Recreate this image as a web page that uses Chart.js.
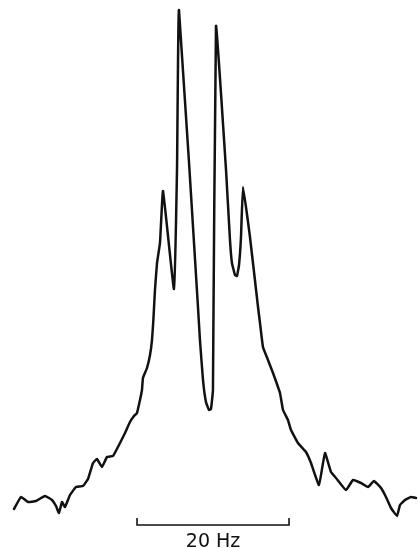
<!DOCTYPE html>
<html>
<head>
<meta charset="utf-8">
<script src="https://cdn.jsdelivr.net/npm/chart.js@4/dist/chart.umd.min.js"></script>
<style>
  html, body { margin: 0; padding: 0; background: #fff; }
  #wrap { width: 418px; height: 548px; }
</style>
</head>
<body>
<div id="wrap"><canvas id="spectrum" width="418" height="548"></canvas></div>
<script>
// frequency offset (Hz)
const freqHz = [
  -25.79, -24.87, -23.95, -22.89, -21.71, -20.79, -20.26, -19.87, -19.47, -19.08,
  -18.42, -17.63, -16.71, -16.05, -15.39, -14.87, -14.21, -13.55, -12.76, -11.84,
  -11.18, -10.53, -10.0, -9.61, -9.21, -8.95, -8.82, -8.29, -7.89, -7.63,
  -7.45, -7.24, -6.97, -6.58, -6.18, -4.74, -4.34, -4.08, -1.58, -1.32,
  -0.92, -0.53, -0.13, 0.13, 0.39, 0.79, 2.11, 2.63,
  2.89, 3.29, 3.55, 3.82, 4.08, 4.34, 5.26, 6.32, 6.58, 6.97,
  7.63, 8.29, 9.21, 9.61, 10.26, 10.66, 11.58, 12.63, 13.29, 14.34,
  15.13, 15.92, 16.58, 17.89, 18.82, 19.87, 20.79, 21.58, 22.50, 23.16,
  23.82, 24.61, 25.0, 25.66, 26.45, 27.11
];
// intensity (arbitrary units)
const intensity = [
  2.2, 4.6, 3.6, 3.8, 4.8, 4.0, 2.8, 1.4, 3.6, 2.6,
  5.0, 6.6, 6.8, 8.2, 11.4, 12.2, 10.6, 12.6, 12.8, 15.4,
  17.4, 19.6, 20.8, 21.4, 24.0, 26.0, 28.4, 30.4, 33.0, 36.0,
  40.0, 46.0, 51.4, 55.4, 65.8, 46.2, 70.0, 102.0, 42.6, 36.0,
  28.0, 23.6, 22.0, 22.2, 26.0, 98.8, 70.0, 56.0,
  51.4, 49.0, 48.8, 51.0, 56.6, 66.6, 56.6, 42.6, 39.4, 34.6,
  32.0, 29.4, 25.4, 22.0, 20.0, 18.0, 15.4, 13.6, 11.4, 7.0,
  13.4, 9.6, 8.4, 6.0, 8.0, 7.4, 6.6, 7.8, 6.4, 4.6,
  2.4, 0.8, 3.0, 4.0, 4.6, 4.4
];

// scale bar
const barStartHz = -9.6;
const barLengthHz = 20;
const barLabel = "20 Hz";

const xRange = [-27.63, 27.37];
const yRange = [-5.6, 104];

const points = freqHz.map((f, i) => ({ x: f, y: intensity[i] }));

const scaleBar = {
  id: "scaleBar",
  afterDatasetsDraw(chart) {
    const { ctx, scales: { x, y } } = chart;
    const x0 = x.getPixelForValue(barStartHz);
    const x1 = x.getPixelForValue(barStartHz + barLengthHz);
    const yLine = y.getPixelForValue(-1.0);
    const yTick = y.getPixelForValue(0.4);
    ctx.save();
    ctx.strokeStyle = "#111";
    ctx.lineWidth = 1.6;
    ctx.beginPath();
    ctx.moveTo(x0, yTick);
    ctx.lineTo(x0, yLine);
    ctx.lineTo(x1, yLine);
    ctx.lineTo(x1, yTick);
    ctx.stroke();
    ctx.fillStyle = "#111";
    ctx.font = "19px 'DejaVu Sans'";
    ctx.textAlign = "center";
    ctx.textBaseline = "alphabetic";
    ctx.fillText(barLabel, (x0 + x1) / 2, y.getPixelForValue(-5.4));
    ctx.restore();
  }
};

new Chart(document.getElementById("spectrum"), {
  type: "scatter",
  data: {
    datasets: [{
      data: points,
      showLine: true,
      borderColor: "#111",
      borderWidth: 2.5,
      borderJoinStyle: "round",
      borderCapStyle: "round",
      pointRadius: 0,
      tension: 0.1,
      clip: false
    }]
  },
  options: {
    responsive: false,
    animation: false,
    layout: { padding: 0 },
    plugins: { legend: { display: false }, tooltip: { enabled: false } },
    scales: {
      x: { type: "linear", min: xRange[0], max: xRange[1], display: false },
      y: { type: "linear", min: yRange[0], max: yRange[1], display: false }
    }
  },
  plugins: [scaleBar]
});
</script>
</body>
</html>
